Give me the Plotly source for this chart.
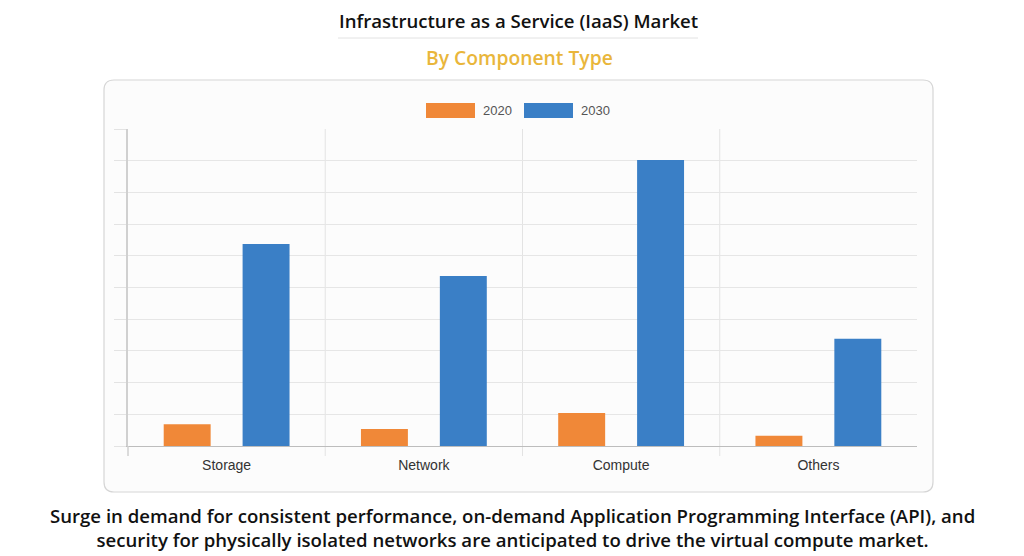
import plotly.graph_objects as go

categories = ["Storage", "Network", "Compute", "Others"]
series_names = ["2020", "2030"]
values_2020 = [0.69, 0.54, 1.04, 0.32]
values_2030 = [6.37, 5.36, 9.02, 3.38]
colors = ["#F08838", "#3A7FC6"]

title = "Infrastructure as a Service (IaaS) Market"
subtitle = "By Component Type"
caption_lines = ["Surge in demand for consistent performance, on-demand Application Programming Interface (API), and",
                 "security for physically isolated networks are anticipated to drive the virtual compute market."]

OFF = 8  # page body margin offset
W, H = 1024 - OFF, 556 - OFF
L, R, T, B = 128, 917, 129, 446


def px(x):
    return (x - L) / (R - L)


def py(y):
    return (B - y) / (B - T)


fig = go.Figure()
for name, vals, col in zip(series_names, [values_2020, values_2030], colors):
    fig.add_trace(go.Bar(x=categories, y=vals, name=name, marker=dict(color=col, line=dict(width=0)),
                         showlegend=False))

# rounded container box
x0, x1, y0, y1 = px(104), px(933), py(492), py(80)
rx, ry = 10 / (R - L), 10 / (B - T)
path = (f"M {x0+rx},{y0} L {x1-rx},{y0} Q {x1},{y0} {x1},{y0+ry} "
        f"L {x1},{y1-ry} Q {x1},{y1} {x1-rx},{y1} L {x0+rx},{y1} Q {x0},{y1} {x0},{y1-ry} "
        f"L {x0},{y0+ry} Q {x0},{y0} {x0+rx},{y0} Z")
shapes = [
    dict(type="path", xref="paper", yref="paper", path=path, fillcolor="#FCFCFC",
         line=dict(color="#D6D6D6", width=1.2), layer="below"),
    dict(type="line", xref="paper", yref="paper", x0=px(338), x1=px(698), y0=py(38), y1=py(38),
         line=dict(color="#E2E2E2", width=1)),
]
# vertical category separators (boundaries between categories), extending below the baseline
for i in range(1, len(categories)):
    shapes.append(dict(type="line", xref="x", yref="paper", x0=i - 0.5, x1=i - 0.5, y0=py(456), y1=1,
                       line=dict(color="#E3E3E3", width=1), layer="below"))
shapes.append(dict(type="line", xref="paper", yref="paper", x0=0, x1=0, y0=py(456), y1=0,
                   line=dict(color="#D0D0D0", width=1.5)))

# custom legend
leg = [(426, 475, 481), (524, 573, 579)]
annotations = []
for (a, b, t), name, col in zip(leg, series_names, colors):
    shapes.append(dict(type="rect", xref="paper", yref="paper", x0=px(a), x1=px(b), y0=py(118), y1=py(103),
                       fillcolor=col, line=dict(width=0)))
    annotations.append(dict(text=name, xref="paper", yref="paper", x=px(t), y=py(110.5), xanchor="left",
                            yanchor="middle", showarrow=False,
                            font=dict(family="Liberation Sans, Arial", size=13, color="#555555")))

annotations += [
    dict(text=title, xref="paper", yref="paper", x=px(518), y=py(20.5), xanchor="center", yanchor="middle",
         showarrow=False, font=dict(family="Open Sans", size=18.6, color="#111111", weight=600)),
    dict(text=subtitle, xref="paper", yref="paper", x=px(519), y=py(57), xanchor="center", yanchor="middle",
         showarrow=False, font=dict(family="Open Sans", size=19.3, color="#E9B63B", weight=600)),
    dict(text="<br>".join(caption_lines), xref="paper", yref="paper", x=px(512), y=py(527.5),
         xanchor="center", yanchor="middle", showarrow=False,
         font=dict(family="Open Sans", size=18.6, color="#111111", weight=600)),
]

fig.update_layout(
    width=W, height=H,
    margin=dict(l=L - OFF, r=1024 - R, t=T - OFF, b=556 - B, pad=0),
    paper_bgcolor="white", plot_bgcolor="rgba(0,0,0,0)",
    barmode="group", bargap=0.2, bargroupgap=0.405,
    shapes=shapes, annotations=annotations,
    xaxis=dict(range=[-0.5, 3.5], ticks="", showgrid=False, showline=True, linecolor="#BDBDBD", linewidth=1,
               ticklabelstandoff=6,
               tickfont=dict(family="Liberation Sans, Arial", size=14, color="#333333"), fixedrange=True),
    yaxis=dict(range=[0, 10], dtick=1, showticklabels=False, ticks="outside", ticklen=12, tickcolor="#E3E3E3",
               showgrid=True, gridcolor="#E6E6E6", zeroline=False, showline=True, linecolor="#D0D0D0",
               linewidth=1.5, fixedrange=True),
)

fig.write_html("out.html")
